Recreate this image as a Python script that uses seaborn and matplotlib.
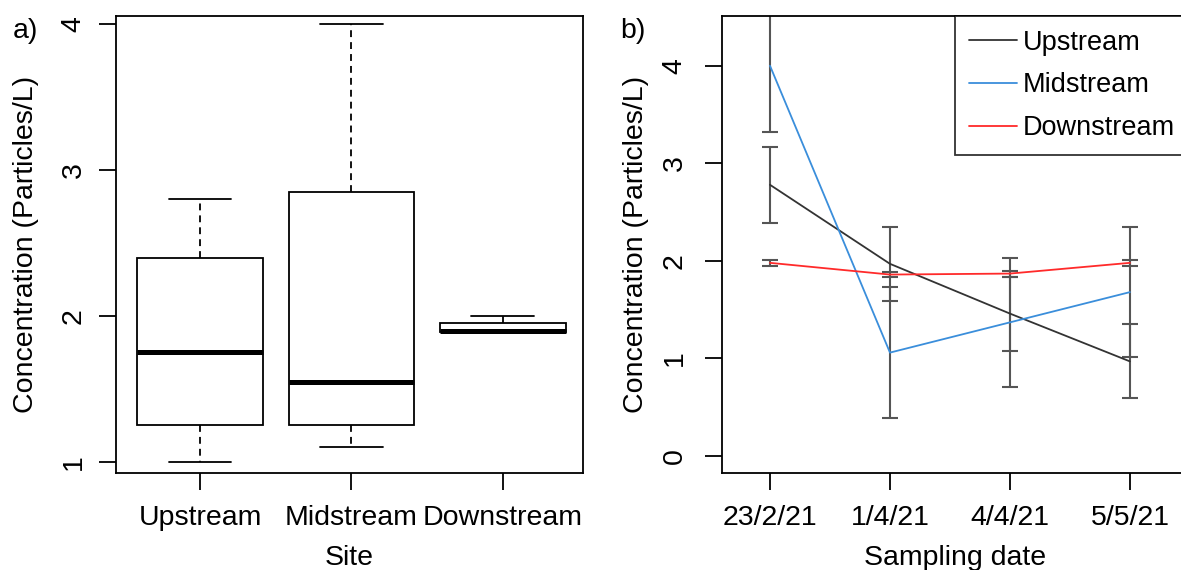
import numpy as np
import pandas as pd
import matplotlib
matplotlib.use("Agg")
import matplotlib.pyplot as plt
import seaborn as sns

# ---- data: panel a (box summaries per site: min, q1, median, q3, max) ----
sites = ["Upstream", "Midstream", "Downstream"]
up_box = [1.00, 1.25, 1.75, 2.40, 2.80]
mid_box = [1.10, 1.25, 1.55, 2.85, 4.00]
down_box = [1.89, 1.89, 1.90, 1.95, 2.00]

# ---- data: panel b (means and error half-widths per sampling date) ----
dates = ["23/2/21", "1/4/21", "4/4/21", "5/5/21"]
up_mean = [2.78, 1.97, 1.46, 0.97]
up_err = [0.39, 0.38, 0.38, 0.38]
mid_mean = [4.00, 1.06, 1.37, 1.68]
mid_err = [0.68, 0.67, 0.66, 0.67]
down_mean = [1.98, 1.86, 1.87, 1.98]
down_err = [0.03, 0.03, 0.03, 0.03]

left_yticks = [1, 2, 3, 4]
right_yticks = [0, 1, 2, 3, 4]

sns.set_theme(style="white")
plt.rcParams["font.family"] = ["Liberation Sans", "DejaVu Sans"]
FS = 20.5
plt.rcParams.update({
    "font.size": FS,
    "text.color": "black",
    "axes.labelcolor": "black",
    "xtick.color": "black",
    "ytick.color": "black",
    "axes.edgecolor": "black",
})

W, H = 1181, 570
fig = plt.figure(figsize=(W / 100, H / 100), dpi=100)

def px_axes(x0, x1, ytop, ybot):
    return fig.add_axes([x0 / W, 1 - ybot / H, (x1 - x0) / W, (ybot - ytop) / H])

axL = px_axes(116, 583, 16, 473.3)
axR = px_axes(721.7, 1188.7, 16, 473.3)

# ---------------- panel a ----------------
box_df = pd.DataFrame({
    "Site": np.repeat(sites, 5),
    "Conc": np.concatenate([up_box, mid_box, down_box]),
})
LW = 1.3
sns.boxplot(
    data=box_df, x="Site", y="Conc", order=sites, ax=axL,
    color="white", linecolor="black", linewidth=LW, width=0.83,
    whis=(0, 100), showfliers=False, saturation=1,
    medianprops=dict(linewidth=3.6, color="black", solid_capstyle="butt"),
    whiskerprops=dict(linestyle=(0, (3.8, 2.8)), color="black", linewidth=LW),
    capprops=dict(color="black", linewidth=LW),
    boxprops=dict(edgecolor="black", linewidth=LW),
)
axL.set_xlim(-0.555, 2.53)
axL.set_ylim(0.922, 4.055)
axL.set_yticks(left_yticks)
axL.set_yticklabels([str(t) for t in left_yticks])
axL.set_xlabel("Site", fontsize=FS)
axL.set_ylabel("Concentration (Particles/L)", fontsize=FS)

# ---------------- panel b ----------------
line_df = pd.DataFrame({
    "Date": dates * 3,
    "Conc": up_mean + mid_mean + down_mean,
    "Site": np.repeat(sites, len(dates)),
})
palette = {"Upstream": "#333333", "Midstream": "#3a8edb", "Downstream": "#ff2a2a"}
pos = np.arange(len(dates))
for m, e in [(up_mean, up_err), (mid_mean, mid_err), (down_mean, down_err)]:
    axR.errorbar(pos, m, yerr=e, fmt="none", ecolor="#555555",
                 elinewidth=1.5, capsize=6, capthick=1.5, zorder=2)
sns.lineplot(data=line_df, x="Date", y="Conc", hue="Site", hue_order=sites,
             palette=palette, linewidth=1.3, ax=axR, zorder=3, sort=False)
axR.set_xlim(-0.4025, 3.49)
axR.set_ylim(-0.177, 4.51)
axR.set_xticks(pos)
axR.set_xticklabels(dates)
axR.set_yticks(right_yticks)
axR.set_yticklabels([str(t) for t in right_yticks])
axR.set_xlabel("Sampling date", fontsize=FS)
axR.set_ylabel("Concentration (Particles/L)", fontsize=FS)

LFS = 19.5
leg = axR.legend(loc="upper right", bbox_to_anchor=(1, 1), borderaxespad=0,
                 frameon=True, fancybox=False, edgecolor="black",
                 fontsize=LFS, handlelength=1.78, handletextpad=0.22,
                 labelspacing=0.62, borderpad=0.5, title=None)
leg.get_frame().set_linewidth(LW)
for lh in leg.get_lines():
    lh.set_linewidth(1.3)
for t in leg.get_texts():
    t.set_color("black")

# ---------------- common styling ----------------
for ax, ypad, ylab_x in [(axL, 9, -0.1927), (axR, 12.5, -0.1835)]:
    for sp in ax.spines.values():
        sp.set_visible(True)
        sp.set_color("black")
        sp.set_linewidth(LW)
    ax.tick_params(axis="both", direction="out", length=12, width=LW,
                   colors="black", labelsize=FS, bottom=True, left=True)
    ax.tick_params(axis="x", pad=10.5)
    ax.tick_params(axis="y", pad=ypad)
    for lbl in ax.get_yticklabels():
        lbl.set_rotation(90)
        lbl.set_verticalalignment("center")
    ax.grid(False)
    ax.yaxis.label.set_verticalalignment("center")
    ax.yaxis.set_label_coords(ylab_x, 0.5)
    ax.xaxis.label.set_verticalalignment("baseline")
    ax.xaxis.set_label_coords(0.5, -0.2)

fig.text(13 / W, 1 - 38 / H, "a)", fontsize=FS, ha="left", va="baseline")
fig.text(620 / W, 1 - 38 / H, "b)", fontsize=FS, ha="left", va="baseline")

fig.savefig("out.png", dpi=100)
